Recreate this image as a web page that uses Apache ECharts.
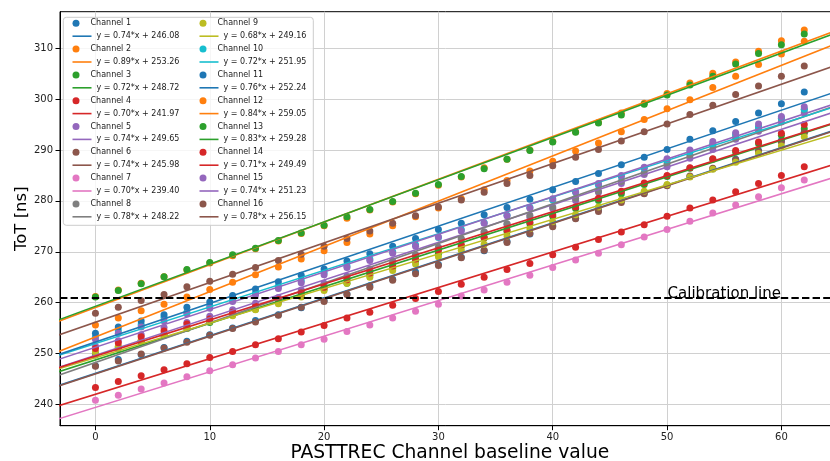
<!DOCTYPE html>
<html><head><meta charset="utf-8">
<script src="https://cdn.jsdelivr.net/npm/echarts@6/dist/echarts.min.js"></script>
<style>html,body{margin:0;padding:0;background:#fff}#c{width:830px;height:461px}</style>
</head><body><div id="c"></div>
<script>
// ---------------- data ----------------
const X_VALUES = [0,2,4,6,8,10,12,14,16,18,20,22,24,26,28,30,32,34,36,38,40,42,44,46,48,50,52,54,56,58,60,62];

const CH1  = [247.6,248.8,249.8,251.2,252.4,253.7,255.0,256.5,257.6,259.0,260.4,261.7,263.3,264.6,266.0,267.5,268.9,270.2,272.0,273.5,275.1,276.6,278.2,280.0,281.5,283.1,284.8,286.3,288.2,289.9,291.9,293.5];
const CH2  = [255.6,257.0,258.4,259.7,261.1,262.6,264.0,265.5,267.0,268.6,270.2,271.8,273.5,275.1,276.9,278.6,280.4,282.2,284.0,285.9,287.8,289.8,291.4,293.6,296.0,298.1,299.9,302.3,304.5,306.8,308.9,311.4];
const CH3  = [250.0,251.2,252.4,253.6,254.9,256.1,257.6,258.7,260.0,261.3,262.7,263.8,265.4,266.8,268.2,269.6,271.1,272.7,274.0,275.5,277.0,278.5,280.1,281.4,283.2,284.8,286.4,288.2,289.6,291.3,292.9,294.2];
const CH4  = [243.3,244.5,245.6,246.8,248.0,249.2,250.4,251.7,252.9,254.2,255.5,257.0,258.1,259.5,260.8,262.2,263.6,265.0,266.5,267.7,269.4,270.9,272.4,273.9,275.3,277.0,278.6,280.2,281.8,283.4,285.0,286.7];
const CH5  = [251.4,252.5,253.7,255.1,256.1,257.3,258.6,259.9,261.0,262.5,263.8,265.2,266.6,268.2,269.4,270.9,272.4,273.9,275.4,276.8,278.5,280.1,281.7,283.4,285.2,286.7,288.4,290.1,292.1,293.7,295.5,297.3];
const CH6  = [247.5,248.5,249.9,251.1,252.2,253.6,254.9,256.2,257.5,259.1,260.2,261.6,263.0,264.4,265.7,267.3,268.8,270.3,271.8,273.6,274.9,276.5,277.9,279.7,281.4,283.0,284.9,286.4,288.1,289.7,291.6,293.4];
const CH7  = [240.8,241.8,243.0,244.2,245.4,246.6,247.8,249.1,250.4,251.7,252.8,254.3,255.6,257.0,258.3,259.7,261.3,262.5,264.0,265.4,266.9,268.4,269.7,271.4,272.9,274.4,276.0,277.6,279.2,280.8,282.6,284.1];
const CH8  = [249.7,251.0,252.3,253.6,255.1,256.3,257.6,259.0,260.4,261.9,263.1,264.8,266.2,267.7,269.3,270.8,272.6,273.9,275.5,277.2,278.8,280.5,281.9,283.8,285.5,287.3,289.0,291.0,292.6,294.4,296.2,297.9];
const CH9  = [250.3,251.4,252.6,253.8,254.9,256.3,257.4,258.6,259.8,261.1,262.4,263.8,265.0,266.3,267.6,269.0,270.3,271.5,273.1,274.5,275.9,277.3,278.8,280.2,281.9,283.2,284.7,286.2,287.6,289.3,290.8,292.6];
const CH10 = [253.3,254.5,255.7,257.1,258.1,259.4,260.6,261.9,263.2,264.3,265.9,267.2,268.6,270.0,271.4,272.8,274.4,275.7,277.2,278.7,280.2,281.7,283.1,284.8,286.4,288.0,289.6,291.2,293.1,294.6,296.3,298.0];
const CH11 = [254.0,255.2,256.4,257.6,259.1,260.1,261.4,262.7,264.1,265.4,266.6,268.2,269.6,271.1,272.6,274.4,275.6,277.3,278.7,280.3,282.2,283.8,285.4,287.1,288.6,290.1,292.1,293.8,295.6,297.3,299.1,301.4];
const CH12 = [261.2,262.5,263.8,265.1,266.4,267.8,269.2,270.6,272.1,273.6,275.1,276.6,278.2,279.8,281.4,283.1,284.7,286.5,288.2,290.0,291.7,293.6,295.4,297.3,299.2,301.1,303.2,305.1,307.3,309.4,311.5,313.6];
const CH13 = [261.1,262.4,263.7,265.1,266.5,267.9,269.4,270.7,272.2,273.7,275.2,276.9,278.3,279.9,281.5,283.2,284.8,286.3,288.2,289.9,291.6,293.5,295.3,296.9,299.0,300.8,302.8,304.5,306.9,309.0,310.7,312.8];
const CH14 = [251.0,252.1,253.3,254.4,255.8,256.8,258.1,259.3,260.6,261.9,263.0,264.5,265.8,267.2,268.6,270.3,271.4,272.8,274.3,275.8,277.3,278.8,280.5,281.9,283.5,285.0,286.5,288.3,289.9,291.6,293.3,295.0];
const CH15 = [252.8,254.0,255.2,256.4,257.8,258.9,260.2,261.5,262.8,263.9,265.5,266.9,268.3,269.7,271.1,272.9,274.1,275.6,277.1,278.6,280.4,281.8,283.4,285.0,286.6,288.3,290.0,291.7,293.4,295.1,296.6,298.5];
const CH16 = [257.9,259.1,260.4,261.6,263.1,264.2,265.6,266.9,268.3,269.5,271.1,272.6,274.1,275.6,277.1,278.8,280.2,281.7,283.4,285.0,286.9,288.6,290.1,291.8,293.6,295.1,297.0,298.8,300.9,302.6,304.5,306.5];

const CHANNELS = [CH1,CH2,CH3,CH4,CH5,CH6,CH7,CH8,CH9,CH10,CH11,CH12,CH13,CH14,CH15,CH16];
const SLOPES     = [0.74,0.89,0.72,0.70,0.74,0.74,0.70,0.78,0.68,0.72,0.76,0.84,0.83,0.71,0.74,0.78];
const INTERCEPTS = [246.08,253.26,248.72,241.97,249.65,245.98,239.40,248.22,249.16,251.95,252.24,259.05,259.28,249.49,251.23,256.15];

const X_TICKS = [0,10,20,30,40,50,60];
const Y_TICKS = [240,250,260,270,280,290,300,310];
const CALIBRATION_Y = 261;
const CALIBRATION_X = 50;
const CALIBRATION_TEXT = 'Calibration line';

// ---------------- style ----------------
const COLORS = ['#1f77b4','#ff7f0e','#2ca02c','#d62728','#9467bd','#8c564b','#e377c2','#7f7f7f','#bcbd22','#17becf'];
const FONT = 'DejaVu Sans';
const X_MIN = -3.1, X_MAX = 65.1, Y_MIN = 235.8, Y_MAX = 317.2;

const chNames = CHANNELS.map((_, i) => 'Channel ' + (i + 1));
const fitNames = SLOPES.map((a, i) => 'y = ' + a.toFixed(2) + '*x + ' + INTERCEPTS[i].toFixed(2));

const series = [];
CHANNELS.forEach((vals, i) => {
  series.push({
    type: 'scatter', name: chNames[i], z: 1, silent: true,
    data: X_VALUES.map((x, j) => [x, vals[j]]),
    symbol: 'circle', symbolSize: 7,
    itemStyle: { color: COLORS[i % 10], opacity: 1, borderWidth: 0 }
  });
});
CHANNELS.forEach((vals, i) => {
  const a = SLOPES[i], b = INTERCEPTS[i];
  series.push({
    type: 'line', name: fitNames[i], z: 2, silent: true,
    data: [[X_MIN - 1, a * (X_MIN - 1) + b], [X_MAX + 1, a * (X_MAX + 1) + b]],
    showSymbol: false, symbol: 'none',
    lineStyle: { color: COLORS[i % 10], width: 1.6 },
    itemStyle: { color: COLORS[i % 10] }
  });
});
series.push({
  type: 'scatter', name: 'calib', z: 2, silent: true,
  data: [[CALIBRATION_X, CALIBRATION_Y]],
  symbolSize: 1, itemStyle: { color: 'rgba(0,0,0,0)' },
  label: { show: true, formatter: CALIBRATION_TEXT, position: [0, 0], align: 'left', verticalAlign: 'bottom',
           offset: [1, 5], fontSize: 15, fontFamily: FONT, color: '#000', opacity: 1 },
  markLine: { silent: true, symbol: 'none', label: { show: false },
              lineStyle: { color: '#000', width: 2, type: [7.4, 3.2], opacity: 1 },
              data: [{ yAxis: CALIBRATION_Y }] }
});

function legendCfg(names, left, top, icon, itemHeight) {
  return {
    show: true, orient: 'vertical', left: left, top: top, data: names, icon: icon,
    itemWidth: 19, itemHeight: itemHeight, itemGap: 13.8, padding: 0, selectedMode: false,
    textStyle: { fontSize: 8.0, fontFamily: FONT, color: '#1a1a1a', lineHeight: 12 },
    itemStyle: { borderWidth: 0 }, z: 4
  };
}

const option = {
  animation: false,
  backgroundColor: '#ffffff',
  grid: { left: 60, top: 11.7, width: 779.7, height: 414, show: true, borderColor: '#000', borderWidth: 1,
          backgroundColor: 'transparent', containLabel: false, outerBoundsMode: 'none' },
  xAxis: {
    type: 'value', min: X_MIN, max: X_MAX, minInterval: 10, maxInterval: 10,
    axisLine: { show: true, onZero: false, lineStyle: { color: '#000', width: 1 } },
    axisTick: { show: true, length: 4.5, customValues: X_TICKS, lineStyle: { color: '#000', width: 1 } },
    axisLabel: { customValues: X_TICKS, color: '#222', fontSize: 10, fontFamily: FONT, margin: 7 },
    splitLine: { show: true, lineStyle: { color: '#d0d0d0', width: 1 } },
    name: 'PASTTREC Channel baseline value', nameLocation: 'middle', nameGap: 18, nameMoveOverlap: false,
    nameTextStyle: { fontSize: 18.7, fontFamily: FONT, color: '#000' }
  },
  yAxis: {
    type: 'value', min: Y_MIN, max: Y_MAX, minInterval: 10, maxInterval: 10,
    axisLine: { show: true, onZero: false, lineStyle: { color: '#000', width: 1 } },
    axisTick: { show: true, length: 4.5, customValues: Y_TICKS, lineStyle: { color: '#000', width: 1 } },
    axisLabel: { customValues: Y_TICKS, color: '#222', fontSize: 10, fontFamily: FONT, margin: 7 },
    splitLine: { show: true, lineStyle: { color: '#d0d0d0', width: 1 } },
    name: 'ToT [ns]', nameLocation: 'middle', nameGap: 30, nameMoveOverlap: false,
    nameTextStyle: { fontSize: 16.5, fontFamily: FONT, color: '#000' }
  },
  legend: [
    legendCfg(chNames.slice(0, 8), 72.5, 17.3, 'circle', 7),
    legendCfg(fitNames.slice(0, 8), 72.5, 30.2, 'rect', 1.6),
    legendCfg(chNames.slice(8), 199.5, 17.3, 'circle', 7),
    legendCfg(fitNames.slice(8), 199.5, 30.2, 'rect', 1.6)
  ],
  graphic: { elements: [{
    type: 'rect', z: 3, silent: true,
    shape: { x: 63.3, y: 17.3, width: 250, height: 208, r: 3 },
    style: { fill: 'rgba(255,255,255,0.8)', stroke: '#cccccc', lineWidth: 1 }
  }] },
  series: series
};

const chart = echarts.init(document.getElementById('c'), null, { renderer: 'canvas' });
chart.setOption(option);
</script></body></html>
